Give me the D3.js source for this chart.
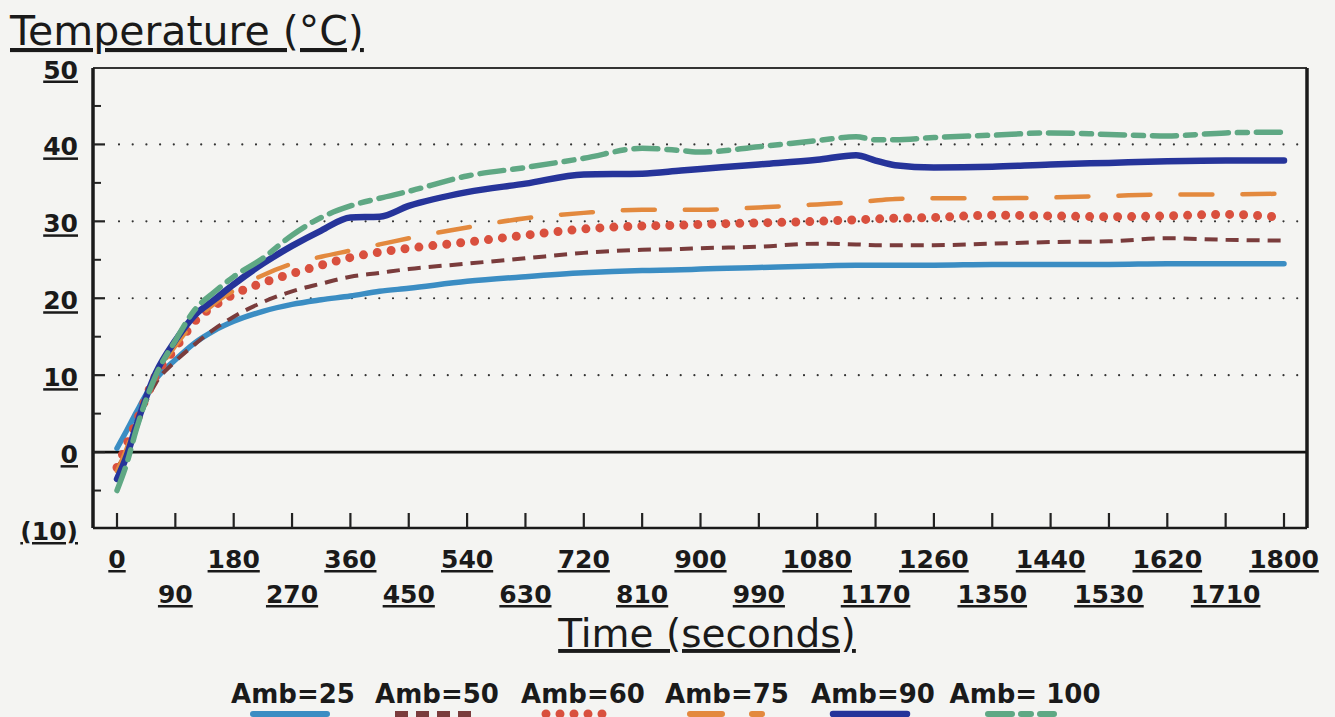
<!DOCTYPE html>
<html>
<head>
<meta charset="utf-8">
<script src="https://cdn.jsdelivr.net/npm/d3@7"></script>
<style>
  html, body { margin: 0; padding: 0; background: #f4f4f2; }
  svg { display: block; }
  text { font-family: "DejaVu Sans", sans-serif; fill: #1a1a1a; }
</style>
</head>
<body>
<svg id="chart" width="1335" height="717"></svg>
<script>
// ---- data ----
const times = [0,15,30,60,90,120,150,180,225,270,315,360,405,450,540,630,720,810,870,900,990,1080,1140,1170,1200,1260,1350,1440,1530,1620,1710,1800];
const amb25  = [0.5,2.8,5.2,9.5,12,14.2,15.8,17,18.3,19.2,19.8,20.3,20.9,21.3,22.2,22.8,23.3,23.6,23.7,23.8,24.0,24.2,24.3,24.3,24.3,24.3,24.4,24.4,24.4,24.5,24.5,24.5];
const amb50  = [-2,0,3.5,9,11.8,14,16,17.6,19.5,20.9,21.9,22.8,23.3,23.8,24.5,25.2,25.9,26.3,26.4,26.5,26.7,27.1,27.0,26.9,26.9,26.9,27.1,27.3,27.4,27.8,27.6,27.5];
const amb60  = [-2,1,4,10,13.5,17,19,20.5,22,23.2,24.3,25.3,26,26.5,27.3,28.2,29,29.4,29.5,29.6,29.8,30,30.2,30.3,30.4,30.5,30.8,30.7,30.6,30.7,30.9,30.5];
const amb75  = [-2.5,0.5,4,10,13.8,17,19.3,21,23,24.5,25.4,26.2,27,27.8,29.2,30.4,31.1,31.5,31.5,31.5,31.8,32.2,32.5,32.7,32.9,33,33,33.1,33.3,33.5,33.5,33.6];
const amb90  = [-3.5,-0.5,3.5,10.3,14.5,17.8,19.8,21.8,24.5,26.8,28.8,30.5,30.6,32,33.8,34.9,36.1,36.2,36.6,36.8,37.4,38.0,38.6,37.9,37.3,37.0,37.1,37.4,37.6,37.8,37.9,37.9];
const amb100 = [-5,-1.5,3,10,14.5,18.5,20.8,22.8,25.2,28.2,30.5,32,33,33.9,35.9,37,38.2,39.5,39.2,39.0,39.7,40.5,41,40.6,40.6,40.9,41.2,41.5,41.3,41.1,41.5,41.6];
const seriesNames = ["Amb=25","Amb=50","Amb=60","Amb=75","Amb=90","Amb= 100"];
const xTicks = [0,90,180,270,360,450,540,630,720,810,900,990,1080,1170,1260,1350,1440,1530,1620,1710,1800];
const yTicks = [50,40,30,20,10,0,-10];
const yTickLabels = ["50","40","30","20","10","0","(10)"];
const gridValues = [10,20,30,40];
const minorY = [45,35,25,15,5,-5];

// ---- styles ----
const styles = [
  {color:"#3b8dc3", width:5.5, dash:null, cap:"round"},
  {color:"#7a3c3c", width:4, dash:"13,8", cap:"butt"},
  {color:"#d9503e", width:9, dash:"0,14", cap:"round"},
  {color:"#e3893e", width:4.5, dash:"32,30", cap:"round"},
  {color:"#26349a", width:6.5, dash:null, cap:"round"},
  {color:"#5fa884", width:5.5, dash:"24,9,10,9", cap:"round"}
];
const allSeries = [amb25, amb50, amb60, amb75, amb90, amb100];

const svg = d3.select("#chart");
const x = d3.scaleLinear().domain([0,1800]).range([117,1284]);
const y = d3.scaleLinear().domain([-10,50]).range([529,67.5]);
const L = 93, R = 1307, T = 68, B = 528;

// grid
const grid = svg.append("g");
gridValues.forEach(v => {
  grid.append("line").attr("x1", L+26).attr("x2", R-4).attr("y1", y(v)).attr("y2", y(v))
    .attr("stroke","#333").attr("stroke-width",2.2).attr("stroke-dasharray","0,13.7").attr("stroke-linecap","round");
});
// zero line
svg.append("line").attr("x1",L).attr("x2",R).attr("y1",y(0)).attr("y2",y(0)).attr("stroke","#111").attr("stroke-width",2.6);

// frame
svg.append("line").attr("x1",L).attr("x2",R).attr("y1",T).attr("y2",T).attr("stroke","#333").attr("stroke-width",2);
svg.append("line").attr("x1",L).attr("x2",L).attr("y1",T).attr("y2",B).attr("stroke","#1a1a1a").attr("stroke-width",3.5);
svg.append("line").attr("x1",R).attr("x2",R).attr("y1",T).attr("y2",B).attr("stroke","#1a1a1a").attr("stroke-width",3.5);
svg.append("line").attr("x1",L).attr("x2",R).attr("y1",B).attr("y2",B).attr("stroke","#1a1a1a").attr("stroke-width",2.6);

// y ticks
yTicks.slice(1,-1).forEach(v => {
  svg.append("line").attr("x1",L).attr("x2",L+12).attr("y1",y(v)).attr("y2",y(v)).attr("stroke","#222").attr("stroke-width",2.2);
});
minorY.forEach(v => {
  svg.append("line").attr("x1",L).attr("x2",L+8).attr("y1",y(v)).attr("y2",y(v)).attr("stroke","#222").attr("stroke-width",2);
});
yTicks.forEach((v,i) => {
  svg.append("text").attr("x",78).attr("y",y(v)+11).attr("text-anchor","end")
    .attr("font-size",25).attr("font-weight","bold").attr("text-decoration","underline")
    .text(yTickLabels[i]);
});

// x ticks
xTicks.forEach((v,i) => {
  svg.append("line").attr("x1",x(v)).attr("x2",x(v)).attr("y1",B-15).attr("y2",B).attr("stroke","#222").attr("stroke-width",2.2);
  svg.append("text").attr("x",x(v)).attr("y", i%2===0 ? 568 : 603).attr("text-anchor","middle")
    .attr("font-size",25).attr("font-weight","bold").attr("text-decoration","underline")
    .text(String(v));
});

// lines
const line = d3.line().x((d,i)=>x(times[i])).y(d=>y(d)).curve(d3.curveMonotoneX);
allSeries.forEach((s,k) => {
  const st = styles[k];
  const p = svg.append("path").datum(s).attr("d", line).attr("fill","none")
    .attr("stroke", st.color).attr("stroke-width", st.width).attr("stroke-linecap", st.cap)
    .attr("stroke-linejoin","round");
  if (st.dash) p.attr("stroke-dasharray", st.dash);
});

// titles
svg.append("text").attr("x",10).attr("y",45).attr("font-size",41).attr("text-decoration","underline").text("Temperature (°C)");
svg.append("text").attr("x",707).attr("y",647).attr("text-anchor","middle").attr("font-size",39).attr("text-decoration","underline").text("Time (seconds)");

// legend
const legCenters = [293,437,583,727,873,1025];
const swatches = [[250,330],[395,472],[543,615],[687,765],[830,910],[985,1057]];
seriesNames.forEach((n,k) => {
  svg.append("text").attr("x",legCenters[k]).attr("y",703).attr("text-anchor","middle")
    .attr("font-size",26).attr("font-weight","bold").text(n);
  const st = styles[k];
  const l = svg.append("line").attr("x1",swatches[k][0]+ (st.cap==="round"?3:0)).attr("x2",swatches[k][1]-(st.cap==="round"?3:0))
    .attr("y1",714).attr("y2",714).attr("stroke",st.color).attr("stroke-width",Math.max(st.width,6))
    .attr("stroke-linecap",st.cap);
  if (st.dash) l.attr("stroke-dasharray", st.dash);
});
</script>
</body>
</html>
